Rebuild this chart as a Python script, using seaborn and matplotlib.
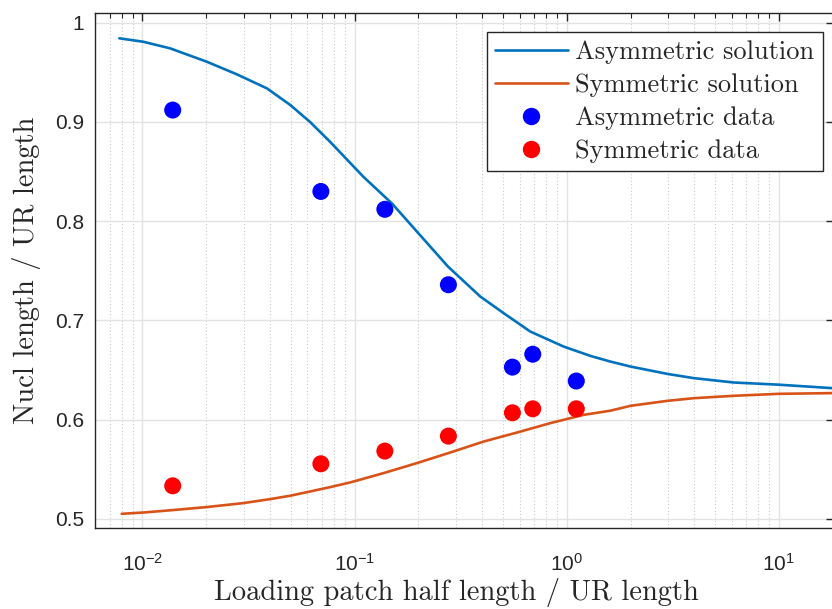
import numpy as np
import pandas as pd
import matplotlib
matplotlib.use("Agg")
import matplotlib.pyplot as plt
import seaborn as sns
from matplotlib.ticker import FixedLocator, FuncFormatter, LogLocator, NullFormatter
from matplotlib.lines import Line2D

# ---- data ----
asym_curve_x = [0.00779, 0.01011, 0.01351, 0.02012, 0.02788, 0.03862, 0.04973, 0.0618,
                0.0768, 0.1103, 0.1501, 0.2758, 0.3916, 0.5044, 0.6742, 0.9678, 1.2936,
                1.607, 1.998, 2.976, 3.973, 6.135, 10.0, 17.86]
asym_curve_y = [0.9843, 0.9808, 0.9742, 0.9607, 0.9480, 0.9339, 0.9172, 0.8999,
                0.8799, 0.8446, 0.8179, 0.7543, 0.7241, 0.7074, 0.6888, 0.6737, 0.6643,
                0.6586, 0.6536, 0.6462, 0.6419, 0.6375, 0.6353, 0.6318]
sym_curve_x = [0.00799, 0.01011, 0.01453, 0.02012, 0.02996, 0.04003, 0.04973, 0.0618,
               0.0768, 0.0954, 0.1370, 0.1969, 0.2828, 0.4060, 0.5834, 0.8379, 1.2028,
               1.607, 1.998, 2.976, 3.973, 6.135, 10.0, 17.86]
sym_curve_y = [0.5052, 0.5065, 0.5093, 0.5120, 0.5160, 0.5200, 0.5234, 0.5277,
               0.5321, 0.5368, 0.5462, 0.5563, 0.5670, 0.5780, 0.5871, 0.5966, 0.6049,
               0.6091, 0.6140, 0.6190, 0.6217, 0.6241, 0.6261, 0.6268]
data_x = [0.0139, 0.0694, 0.139, 0.277, 0.555, 0.692, 1.11]
asym_data_y = [0.912, 0.830, 0.812, 0.736, 0.653, 0.666, 0.639]
sym_data_y = [0.5334, 0.5556, 0.5684, 0.5835, 0.607, 0.611, 0.611]
y_ticks = [0.5, 0.6, 0.7, 0.8, 0.9, 1.0]
x_ticks = [0.01, 0.1, 1, 10]

labels = ["Asymmetric solution", "Symmetric solution", "Asymmetric data", "Symmetric data"]

curves = pd.concat([
    pd.DataFrame({"x": asym_curve_x, "y": asym_curve_y, "series": labels[0]}),
    pd.DataFrame({"x": sym_curve_x, "y": sym_curve_y, "series": labels[1]}),
])
points = pd.concat([
    pd.DataFrame({"x": data_x, "y": asym_data_y, "series": labels[2]}),
    pd.DataFrame({"x": data_x, "y": sym_data_y, "series": labels[3]}),
])

sns.set_style("white")
plt.rcParams["mathtext.fontset"] = "custom"
plt.rcParams["mathtext.rm"] = "Liberation Sans"

W, H = 832, 609
fig = plt.figure(figsize=(W / 100, H / 100), dpi=100)
ax_left, ax_right, ax_top, ax_bot = 95, 834, 13, 528.3
ax = fig.add_axes([ax_left / W, 1 - ax_bot / H, (ax_right - ax_left) / W, (ax_bot - ax_top) / H])

ax.set_xscale("log")
ax.set_xlim(0.00598, 18.2)
ax.set_ylim(0.4906, 1.0098)

# grid
ax.grid(True, which="major", color="#e3e3e3", linewidth=1.0, linestyle="-", zorder=0)
ax.xaxis.set_minor_locator(LogLocator(base=10, subs=np.arange(2, 10)))
ax.xaxis.set_minor_formatter(NullFormatter())
ax.grid(True, which="minor", axis="x", color="#c8c8c8", linewidth=0.8, linestyle=(0, (1, 2)), zorder=0)
ax.set_axisbelow(True)

sns.lineplot(data=curves, x="x", y="y", hue="series",
             palette={labels[0]: "#0072BD", labels[1]: "#D95319"},
             linewidth=1.9, ax=ax, legend=False, sort=False, estimator=None)
sns.scatterplot(data=points, x="x", y="y", hue="series",
                palette={labels[2]: "#0000FF", labels[3]: "#FF0000"},
                s=150, edgecolor="none", linewidth=0, ax=ax, legend=False, zorder=5)

ax.xaxis.set_major_locator(FixedLocator(x_ticks))
ax.xaxis.set_major_formatter(FuncFormatter(
    lambda v, p: r"$\mathregular{10^{%d}}$" % int(round(np.log10(v)))))
ax.yaxis.set_major_locator(FixedLocator(y_ticks))
ax.yaxis.set_major_formatter(FuncFormatter(lambda v, p: "%g" % v))

for lab in ax.get_xticklabels() + ax.get_yticklabels():
    lab.set_fontfamily("Liberation Sans")
    lab.set_fontsize(15)
    lab.set_color("#262626")

ax.tick_params(axis="both", which="major", direction="in", length=6, width=1.0,
               color="#262626", top=True, right=True)
ax.tick_params(axis="y", which="major", pad=8)
ax.tick_params(axis="x", which="major", pad=18)
ax.tick_params(axis="x", which="minor", direction="in", length=3.5, width=0.8,
               color="#262626", top=True)
ax.tick_params(axis="y", which="minor", left=False, right=False)

for s in ax.spines.values():
    s.set_color("#262626")
    s.set_linewidth(1.0)

ax.set_xlabel("Loading patch half length / UR length", fontfamily="cmr10", fontsize=20.5,
              color="#262626")
ax.xaxis.set_label_coords((456.5 - ax_left) / (ax_right - ax_left), -(600 - ax_bot) / (ax_bot - ax_top))
ax.xaxis.label.set_va("baseline")
ax.set_ylabel("Nucl length / UR length", fontfamily="cmr10", fontsize=20.5,
              color="#262626")
ax.yaxis.set_label_coords(-(95 - 27) / (ax_right - ax_left), 0.5)
ax.yaxis.label.set_va("center")

handles = [
    Line2D([], [], color="#0072BD", linewidth=1.9),
    Line2D([], [], color="#D95319", linewidth=1.9),
    Line2D([], [], color="#0000FF", marker="o", linestyle="none", markersize=11.5),
    Line2D([], [], color="#FF0000", marker="o", linestyle="none", markersize=11.5),
]
leg = ax.legend(handles, labels, loc="upper right",
                bbox_to_anchor=((822.5 - ax_left) / (ax_right - ax_left), 1 - (32.3 - ax_top) / (ax_bot - ax_top)),
                prop={"family": "cmr10", "size": 19}, frameon=True, fancybox=False,
                edgecolor="#262626", framealpha=1, borderpad=0.3, labelspacing=0.35,
                handlelength=2.75, handletextpad=0.3, borderaxespad=0)
leg.get_frame().set_linewidth(1.0)

fig.savefig("out.png", dpi=100)
